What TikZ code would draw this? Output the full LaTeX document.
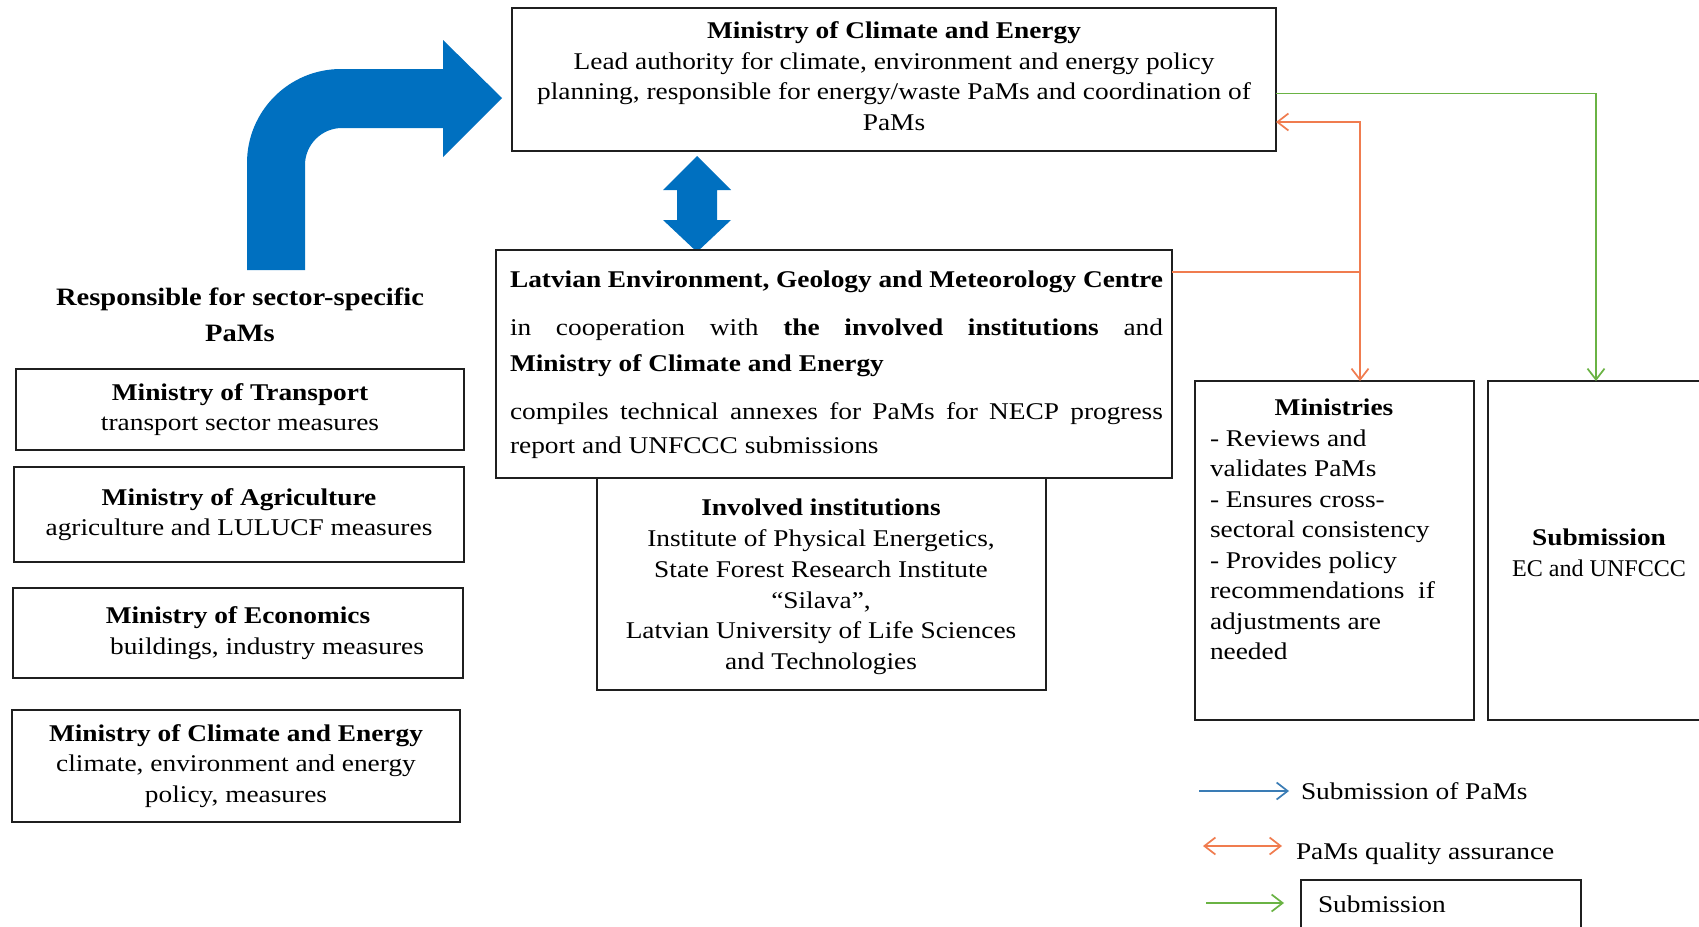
\documentclass[tikz,border=0pt]{standalone}
\usepackage{graphicx}
\usepackage{fontspec}
\setmainfont{Liberation Serif}[FakeStretch=1.14]
\usetikzlibrary{arrows.meta}
\definecolor{bigblue}{HTML}{0070C0}
\definecolor{qaorange}{HTML}{F07C4F}
\definecolor{subgreen}{HTML}{6AB344}
\definecolor{legblue}{HTML}{3A7CB5}
\newcommand\myfont{\fontsize{24}{30.5}\selectfont}
\tikzset{
  every node/.style={inner sep=0pt, outer sep=0pt},
  box/.style={draw=black!88, line width=1.7pt, anchor=north west, align=center, font=\myfont},
  txt/.style={align=center, font=\myfont},
  lefttxt/.style={align=left, font=\myfont, anchor=west},
  barbtip/.style={-{Straight Barb[length=11pt,width=17pt]}},
  dbarbtip/.style={{Straight Barb[length=11pt,width=17pt]}-{Straight Barb[length=11pt,width=17pt]}},
  qa/.style={draw=qaorange, line width=1.7pt},
  sub/.style={draw=subgreen, line width=1.7pt},
  lblue/.style={draw=legblue, line width=1.7pt}
}
\begin{document}
\begin{tikzpicture}[x=1pt,y=-1pt]
\useasboundingbox (0,0) rectangle (1699,926);
\fill[white] (0,0) rectangle (1699,926);

% top box
\node[box, minimum width=764pt, minimum height=143pt] (mce) at (512,8) {};
\node[txt] (mcetxt) at (894,76)
  {\textbf{Ministry of Climate and Energy}\\
   Lead authority for climate, environment and energy policy\\
   planning, responsible for energy/waste PaMs and coordination of\\
   PaMs};

% curved blue arrow
\fill[bigblue] (247,270) -- (247,163) .. controls (247,111) and (289,69) .. (341,69)
  -- (443,69) -- (443,40) -- (502,98) -- (443,157) -- (443,128) -- (342,128)
  .. controls (321.6,128) and (305,144.6) .. (305,165) -- (305,270) -- cycle;

% double vertical arrow
\fill[bigblue] (697,156) -- (731,190) -- (717,190) -- (717,220) -- (731,220) -- (697,252)
  -- (663,220) -- (677,220) -- (677,190) -- (663,190) -- cycle;

% left column
\node[txt, font=\fontsize{25}{36}\selectfont] (resp) at (240,315)
  {\textbf{Responsible for sector-specific}\\\textbf{PaMs}};
\node[box, minimum width=448pt, minimum height=81pt] (trans) at (16,369)
  {\textbf{Ministry of Transport}\\transport sector measures};
\node[box, minimum width=450pt, minimum height=95pt] (agri) at (14,467)
  {\textbf{Ministry of Agriculture}\\agriculture and LULUCF measures};
\node[box, minimum width=450pt, minimum height=90pt] (econ) at (13,588)
  {\textbf{Ministry of Economics}\\\hspace*{58pt}buildings, industry measures};
\node[box, minimum width=448pt, minimum height=112pt] (mcel) at (12,710)
  {\textbf{Ministry of Climate and Energy}\\climate, environment and energy\\policy, measures};

% involved institutions
\node[box, minimum width=449pt, minimum height=212pt] (inv) at (597,478) {};
\node[txt, font=\fontsize{24}{30.8}\selectfont] (invtxt) at (821,587)
  {\textbf{Involved institutions}\\
   Institute of Physical Energetics,\\
   State Forest Research Institute\\
   “Silava”,\\
   Latvian University of Life Sciences\\
   and Technologies};

% LEGMC
\node[box, fill=white, minimum width=676pt, minimum height=228pt] (legmc) at (496,250) {};
\node[lefttxt] (lg1) at (510,281) {\strut\makebox[653pt][s]{\bfseries Latvian Environment, Geology and Meteorology Centre}};
\node[lefttxt] (lg2) at (510,329) {\strut\makebox[653pt][s]{in cooperation with \textbf{the involved institutions} and}};
\node[lefttxt] (lg3) at (510,365) {\strut\textbf{Ministry of Climate and Energy}};
\node[lefttxt] (lg4) at (510,413) {\strut\makebox[653pt][s]{compiles technical annexes for PaMs for NECP progress}};
\node[lefttxt] (lg5) at (510,447) {\strut report and UNFCCC submissions};

% Ministries
\node[box, minimum width=279pt, minimum height=339pt] (min) at (1195,381) {};
\node[txt] (mintitle) at (1334,409) {\strut\textbf{Ministries}};
\node[lefttxt] (minbody) at (1210,547)
  {\strut- Reviews and\\
   validates PaMs\\
   - Ensures cross-\\
   sectoral consistency\\
   - Provides policy\\
   recommendations\ \ if\\
   adjustments are\\
   needed\strut};

% Submission
\node[box, minimum width=216pt, minimum height=339pt] (subm) at (1488,381) {};
\node[txt] (submtxt) at (1599,553) {\textbf{Submission}\\\scalebox{0.88}[1]{EC and UNFCCC}};

% connectors
\coordinate (qx) at (1360,272);
\coordinate (qtop) at (1360,122);
\coordinate (gtop) at (1596,93.5);
\draw[qa] (legmc.east |- qx) -- (qx);
\draw[qa, dbarbtip] (mce.east |- qtop) -- (qtop) -- (min.north -| qtop);
\draw[sub, barbtip] (mce.east |- gtop) -- (gtop) -- (subm.north -| gtop);

% legend
\coordinate (lb1) at (1199,791);
\coordinate (lb2) at (1289,791);
\draw[lblue, barbtip] (lb1) -- (lb2);
\node[lefttxt] (lbt) at (1301,791) {Submission of PaMs};
\coordinate (lo1) at (1203,846);
\coordinate (lo2) at (1282,846);
\draw[qa, dbarbtip] (lo1) -- (lo2);
\node[lefttxt] (lot) at (1296,854) {PaMs quality assurance};
\coordinate (lg1c) at (1206,903);
\coordinate (lg2c) at (1284,903);
\draw[sub, barbtip] (lg1c) -- (lg2c);
\node[box, minimum width=280pt, minimum height=70pt] (legbox) at (1301,880) {};
\node[lefttxt] (lgt) at (1318,904) {Submission};
\end{tikzpicture}
\end{document}
